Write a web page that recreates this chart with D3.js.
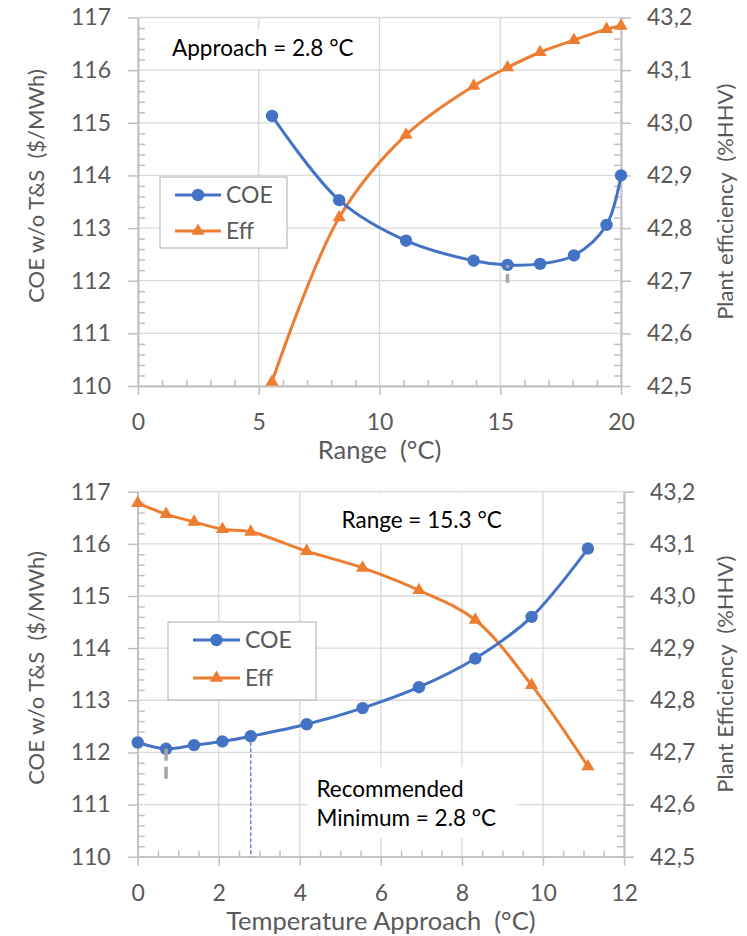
<!DOCTYPE html>
<html lang="en">
<head>
    <meta charset="UTF-8">
    <title>COE and plant efficiency vs range / approach</title>
    <script src="https://d3js.org/d3.v7.min.js"></script>
    <style>
        body {
            margin: 0;
            padding: 0;
            background-color: white;
        }
        svg {
            display: block;
            font-family: Lato, "Open Sans", sans-serif;
        }
    </style>
</head>
<body>
    <div id="chart"></div>
    <script>
        // top chart: cooling range sweep (approach fixed at 2.8 C)
        const rangeX = [5.55, 8.33, 11.1, 13.9, 15.3, 16.65, 18.05, 19.4, 20];
        const rangeCOE = [115.13, 113.53, 112.76, 112.38, 112.30, 112.32, 112.48, 113.06, 114.0];
        const rangeEff = [42.508, 42.82, 42.977, 43.07, 43.105, 43.134, 43.157, 43.178, 43.184];

        // bottom chart: temperature approach sweep (range fixed at 15.3 C)
        const approachX = [0, 0.7, 1.39, 2.09, 2.79, 4.17, 5.55, 6.94, 8.33, 9.72, 11.11];
        const approachCOE = [112.19, 112.07, 112.14, 112.21, 112.31, 112.54, 112.85, 113.25, 113.80, 114.60, 115.91];
        const approachEff = [43.178, 43.157, 43.142, 43.128, 43.123, 43.086, 43.054, 43.011, 42.954, 42.829, 42.673];

        // axis ticks
        const coeTicks = [110, 111, 112, 113, 114, 115, 116, 117];
        const effTicks = [42.5, 42.6, 42.7, 42.8, 42.9, 43.0, 43.1, 43.2];
        const rangeTicks = [0, 5, 10, 15, 20];
        const approachTicks = [0, 2, 4, 6, 8, 10, 12];

        const legendNames = ["COE", "Eff"];

        const width = 747, height = 936;
        const blue = "#4472c4", orange = "#ed7d31";
        const gridColor = "#d9d9d9", axisColor = "#bfbfbf", textColor = "#595959";

        const svg = d3.select("#chart").append("svg")
            .attr("width", width)
            .attr("height", height);

        const fmtComma = d => d3.format(".1f")(d).replace(".", ",");

        function minorTicks(lo, hi, step, majors) {
            const out = [];
            const n = Math.round((hi - lo) / step);
            for (let i = 0; i <= n; i++) {
                const v = +(lo + i * step).toFixed(4);
                if (!majors.some(m => Math.abs(m - v) < 1e-6)) out.push(v);
            }
            return out;
        }

        function drawChart(cfg) {
            const x = d3.scaleLinear().domain(cfg.xDomain).range([cfg.left, cfg.right]);
            const yL = d3.scaleLinear().domain([110, 117]).range([cfg.bottom, cfg.top]);
            const yR = d3.scaleLinear().domain([42.5, 43.2]).range([cfg.bottom, cfg.top]);

            const g = svg.append("g");

            // gridlines
            g.append("g").selectAll("line").data(coeTicks).join("line")
                .attr("x1", cfg.left).attr("x2", cfg.right)
                .attr("y1", d => yL(d)).attr("y2", d => yL(d))
                .attr("stroke", gridColor).attr("stroke-width", 1.3);
            g.append("g").selectAll("line").data(cfg.xTicks).join("line")
                .attr("x1", d => x(d)).attr("x2", d => x(d))
                .attr("y1", cfg.top).attr("y2", cfg.bottom)
                .attr("stroke", gridColor).attr("stroke-width", 1.3);

            // white text boxes hide the grid under the notes
            cfg.notes.forEach(n => {
                g.append("rect")
                    .attr("x", x(n.box[0])).attr("width", x(n.box[1]) - x(n.box[0]))
                    .attr("y", yL(n.box[3])).attr("height", yL(n.box[2]) - yL(n.box[3]))
                    .attr("fill", "white");
                const t = g.append("text")
                    .attr("fill", "#000")
                    .style("font-size", "22.5px");
                n.lines.forEach((line, i) => {
                    t.append("tspan")
                        .attr("x", x(n.x))
                        .attr("y", yL(n.y[i]))
                        .text(line);
                });
            });

            // axes
            const styleAxis = sel => {
                sel.select(".domain").attr("stroke", axisColor).attr("stroke-width", 1.5);
                sel.selectAll(".tick line").attr("stroke", axisColor).attr("stroke-width", 1.5);
                sel.selectAll(".tick text").attr("fill", textColor)
                    .style("font-size", "23px").style("font-family", "Lato, sans-serif");
            };

            g.append("g")
                .attr("transform", `translate(${cfg.left},0)`)
                .call(d3.axisLeft(yL).tickValues(minorTicks(110, 117, 0.2, coeTicks)).tickSize(-7).tickSizeOuter(0).tickFormat(""))
                .call(styleAxis);
            g.append("g")
                .attr("transform", `translate(${cfg.left},0)`)
                .call(d3.axisLeft(yL).tickValues(coeTicks).tickSize(10).tickSizeOuter(0).tickPadding(17).tickFormat(d3.format("d")))
                .call(styleAxis);

            g.append("g")
                .attr("transform", `translate(${cfg.right},0)`)
                .call(d3.axisRight(yR).tickValues(minorTicks(42.5, 43.2, 0.02, effTicks)).tickSize(-7).tickSizeOuter(0).tickFormat(""))
                .call(styleAxis);
            g.append("g")
                .attr("transform", `translate(${cfg.right},0)`)
                .call(d3.axisRight(yR).tickValues(effTicks).tickSize(10).tickSizeOuter(0).tickPadding(16).tickFormat(fmtComma))
                .call(styleAxis);

            g.append("g")
                .attr("transform", `translate(0,${cfg.bottom})`)
                .call(d3.axisBottom(x).tickValues(minorTicks(cfg.xDomain[0], cfg.xDomain[1], cfg.xMinor, cfg.xTicks)).tickSize(-6).tickSizeOuter(0).tickFormat(""))
                .call(styleAxis);
            g.append("g")
                .attr("transform", `translate(0,${cfg.bottom})`)
                .call(d3.axisBottom(x).tickValues(cfg.xTicks).tickSize(9).tickSizeOuter(0).tickPadding(19).tickFormat(d3.format("d")))
                .call(styleAxis);

            // axis titles
            g.append("text")
                .attr("x", (cfg.left + cfg.right) / 2)
                .attr("y", cfg.bottom + 73)
                .attr("text-anchor", "middle")
                .attr("fill", textColor)
                .style("font-size", "25.5px")
                .text(cfg.xTitle);
            g.append("text")
                .attr("transform", `translate(44,${cfg.leftTitleY}) rotate(-90)`)
                .attr("text-anchor", "middle")
                .attr("fill", textColor)
                .style("font-size", "22px")
                .text("COE w/o T&S\u00a0 ($/MWh)");
            g.append("text")
                .attr("transform", `translate(733,${(cfg.top + cfg.bottom) / 2}) rotate(-90)`)
                .attr("text-anchor", "middle")
                .attr("fill", textColor)
                .style("font-size", "22px")
                .text(cfg.rightTitle);

            // series
            const rows = cfg.xs.map((v, i) => ({ x: v, coe: cfg.coe[i], eff: cfg.eff[i] }));
            const curve = d3.curveCatmullRom.alpha(0.5);

            g.append("path")
                .datum(rows)
                .attr("fill", "none")
                .attr("stroke", orange)
                .attr("stroke-width", 3)
                .attr("d", d3.line().curve(curve).x(d => x(d.x)).y(d => yR(d.eff)));
            g.append("g").selectAll("path").data(rows).join("path")
                .attr("transform", d => `translate(${x(d.x)},${yR(d.eff)})`)
                .attr("d", d3.symbol(d3.symbolTriangle, 75))
                .attr("fill", orange);

            g.append("path")
                .datum(rows)
                .attr("fill", "none")
                .attr("stroke", blue)
                .attr("stroke-width", 3)
                .attr("d", d3.line().curve(curve).x(d => x(d.x)).y(d => yL(d.coe)));
            g.append("g").selectAll("circle").data(rows).join("circle")
                .attr("cx", d => x(d.x))
                .attr("cy", d => yL(d.coe))
                .attr("r", 6.2)
                .attr("fill", blue);

            // dashed drop lines
            if (cfg.recommended !== undefined) {
                const rec = rows.find(d => Math.abs(d.x - cfg.recommended) < 0.05);
                g.append("line")
                    .attr("x1", x(rec.x)).attr("x2", x(rec.x))
                    .attr("y1", yL(rec.coe) + 6).attr("y2", cfg.bottom)
                    .attr("stroke", blue).attr("stroke-width", 1.2)
                    .attr("stroke-dasharray", "4,2");
            }
            const minRow = rows.find(d => Math.abs(d.x - cfg.minMark[0]) < 0.05);
            g.append("line")
                .attr("x1", x(minRow.x)).attr("x2", x(minRow.x))
                .attr("y1", yL(minRow.coe)).attr("y2", yL(cfg.minMark[1]))
                .attr("stroke", "#a6a6a6").attr("stroke-width", 3.5)
                .attr("stroke-dasharray", "12,6")
                .attr("stroke-dashoffset", cfg.dashOffset);

            // legend
            const lg = g.append("g").attr("transform", `translate(${cfg.legend[0]},${cfg.legend[1]})`);
            lg.append("rect")
                .attr("width", cfg.legend[2]).attr("height", cfg.legend[3])
                .attr("fill", "white").attr("stroke", axisColor).attr("stroke-width", 1.3);
            legendNames.forEach((name, i) => {
                const yy = 18 + i * cfg.legendGap;
                const c = i === 0 ? blue : orange;
                lg.append("line")
                    .attr("x1", cfg.legendLine[0]).attr("x2", cfg.legendLine[1])
                    .attr("y1", yy).attr("y2", yy)
                    .attr("stroke", c).attr("stroke-width", 3);
                const mx = (cfg.legendLine[0] + cfg.legendLine[1]) / 2;
                if (i === 0) {
                    lg.append("circle").attr("cx", mx).attr("cy", yy).attr("r", 6.2).attr("fill", c);
                } else {
                    lg.append("path").attr("transform", `translate(${mx},${yy})`)
                        .attr("d", d3.symbol(d3.symbolTriangle, 75)).attr("fill", c);
                }
                lg.append("text")
                    .attr("x", cfg.legendLine[1] + 5)
                    .attr("y", yy)
                    .attr("dy", "0.36em")
                    .attr("fill", textColor)
                    .style("font-size", "23px")
                    .text(name);
            });
        }

        drawChart({
            left: 138, right: 621, top: 17.5, bottom: 386,
            xDomain: [0, 20], xTicks: rangeTicks, xMinor: 1,
            xs: rangeX, coe: rangeCOE, eff: rangeEff,
            xTitle: "Range\u00a0 (°C)",
            rightTitle: "Plant efficiency\u00a0 (%HHV)",
            leftTitleY: 186,
            notes: [{ lines: ["Approach = 2.8 °C"], x: 1.41, y: [116.26], box: [1.1, 9.2, 116.02, 116.76] }],
            minMark: [15.3, 111.96], dashOffset: 9,
            legend: [160, 177, 127, 71], legendGap: 36, legendLine: [15, 61]
        });

        drawChart({
            left: 137.7, right: 624, top: 491.7, bottom: 856.7,
            xDomain: [0, 12], xTicks: approachTicks, xMinor: 0.5,
            xs: approachX, coe: approachCOE, eff: approachEff,
            xTitle: "Temperature Approach\u00a0 (°C)",
            rightTitle: "Plant Efficiency\u00a0 (%HHV)",
            leftTitleY: 668,
            notes: [
                { lines: ["Range = 15.3 °C"], x: 5.03, y: [116.30], box: [4.74, 9.3, 116.02, 116.97] },
                { lines: ["Recommended", "Minimum = 2.8 °C"], x: 4.41, y: [111.15, 110.58], box: [4.2, 9.35, 110.36, 111.72] }
            ],
            recommended: 2.79,
            minMark: [0.7, 111.45], dashOffset: 0,
            legend: [168, 622, 148, 78], legendGap: 38, legendLine: [25, 72]
        });
    </script>
</body>
</html>
